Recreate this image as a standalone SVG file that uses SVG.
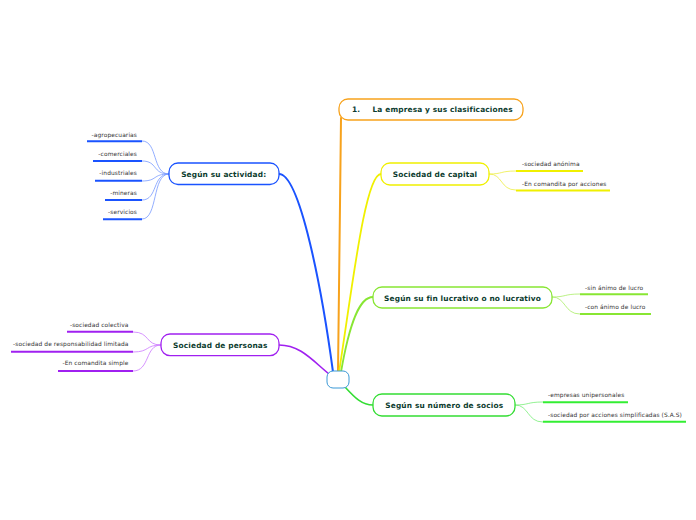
<svg xmlns="http://www.w3.org/2000/svg" width="696" height="520" viewBox="0 0 696 520">
<style>
.node{fill:#fff;stroke-width:1.3}
.nt{font-family:"DejaVu Sans",Verdana,sans-serif;font-weight:bold;font-size:7.4px;letter-spacing:0.15px;fill:#0b3b2e;text-anchor:middle}
.ct{font-family:"DejaVu Sans",Verdana,sans-serif;font-size:5.9px;letter-spacing:0.1px;fill:#333}
.ul{stroke-width:2;fill:none}
.c{fill:none;stroke-linecap:round}
</style>
<rect width="696" height="520" fill="#fff"/>
<g id="connectors">
  <path class="c" d="M341,118 C340,200 339,300 338,372" stroke="#f7a21c" stroke-width="2"/>
  <path class="c" d="M279,174 C300,174 322,290 333,372" stroke="#1a53ff" stroke-width="2"/>
  <path class="c" d="M381,174 C365,174 352,290 339,372" stroke="#f0f000" stroke-width="1.8"/>
  <path class="c" d="M373,297 C360,297 350,320 341,372" stroke="#88e633" stroke-width="1.8"/>
  <path class="c" d="M279,345 C300,345 312,360 329,374" stroke="#a020f0" stroke-width="1.6"/>
  <path class="c" d="M345,387 C355,398 362,405 373,405" stroke="#33dd33" stroke-width="1.6"/>
  <g stroke="#7799ff" stroke-width="0.8" fill="none">
    <path d="M169,174 C152,174 158,141 142,141"/>
    <path d="M169,174 C152,174 158,161 142,161"/>
    <path d="M169,174 C152,174 158,181 142,181"/>
    <path d="M169,174 C152,174 158,200 142,200"/>
    <path d="M169,174 C152,174 158,219 142,219"/>
  </g>
  <g stroke="#cc77ff" stroke-width="0.8" fill="none">
    <path d="M161,345 C145,345 150,332 133,332"/>
    <path d="M161,345 C145,345 150,352 133,352"/>
    <path d="M161,345 C145,345 150,371 133,371"/>
  </g>
  <g stroke="#eeee44" stroke-width="0.8" fill="none">
    <path d="M489,174 C503,174 500,171 516,171"/>
    <path d="M489,174 C503,174 500,190 516,190"/>
  </g>
  <g stroke="#aaee66" stroke-width="0.8" fill="none">
    <path d="M552,297 C566,297 564,294 580,294"/>
    <path d="M552,297 C566,297 564,314 580,314"/>
  </g>
  <g stroke="#77ee77" stroke-width="0.8" fill="none">
    <path d="M515,405 C529,405 527,402 543,402"/>
    <path d="M515,405 C529,405 527,422 543,422"/>
  </g>
</g>
<g id="center">
  <rect x="327" y="371" width="22" height="17" rx="6" fill="#fff" stroke="#3b99d6" stroke-width="1"/>
</g>
<g id="n-empresa">
  <rect class="node" x="339" y="99" width="184" height="21" rx="9" stroke="#f7a21c"/>
  <text class="nt" x="352" y="112" style="text-anchor:start">1.</text>
  <text class="nt" x="372.5" y="112" style="text-anchor:start">La empresa y sus clasificaciones</text>
</g>
<g id="n-capital">
  <rect class="node" x="381" y="163" width="108" height="22" rx="9" stroke="#f0f000"/>
  <text class="nt" x="435" y="176.5">Sociedad de capital</text>
</g>
<g id="c-capital">
  <path class="ul" d="M516,171 H583" stroke="#f0f000"/>
  <text class="ct" x="522" y="165.5">-sociedad anónima</text>
  <path class="ul" d="M516,190.5 H610" stroke="#f0f000"/>
  <text class="ct" x="522" y="185.5">-En comandita por acciones</text>
</g>
<g id="n-lucro">
  <rect class="node" x="373" y="287" width="179" height="21" rx="9" stroke="#88e633"/>
  <text class="nt" x="462.5" y="300.5">Según su fin lucrativo o no lucrativo</text>
</g>
<g id="c-lucro">
  <path class="ul" d="M580,294.3 H648" stroke="#88e633"/>
  <text class="ct" x="585" y="289.5">-sin ánimo de lucro</text>
  <path class="ul" d="M580,314 H651" stroke="#88e633"/>
  <text class="ct" x="585" y="308.5">-con ánimo de lucro</text>
</g>
<g id="n-socios">
  <rect class="node" x="373" y="394" width="142" height="22" rx="9" stroke="#33dd33"/>
  <text class="nt" x="444.3" y="407.5">Según su número de socios</text>
</g>
<g id="c-socios">
  <path class="ul" d="M543,402.3 H628" stroke="#33ee33"/>
  <text class="ct" x="548" y="397">-empresas unipersonales</text>
  <path class="ul" d="M543,421.7 H686" stroke="#33ee33"/>
  <text class="ct" x="548" y="416.7">-sociedad por acciones simplificadas (S.A.S)</text>
</g>
<g id="n-actividad">
  <rect class="node" x="169" y="163" width="110" height="21.5" rx="9" stroke="#1a53ff"/>
  <text class="nt" x="223.7" y="176.5">Según su actividad:</text>
</g>
<g id="c-actividad">
  <g class="ul" stroke="#1a53ff">
    <path d="M87,141.3 H142"/>
    <path d="M93,161 H142"/>
    <path d="M95,180.7 H142"/>
    <path d="M105,200 H142"/>
    <path d="M103,219.3 H142"/>
  </g>
  <g class="ct" text-anchor="end">
    <text x="137" y="136.7">-agropecuarias</text>
    <text x="137" y="155.5">-comerciales</text>
    <text x="137" y="175.3">-industriales</text>
    <text x="137" y="194.5">-mineras</text>
    <text x="137" y="214">-servicios</text>
  </g>
</g>
<g id="n-personas">
  <rect class="node" x="161" y="334" width="118" height="21.7" rx="9" stroke="#a020f0"/>
  <text class="nt" x="220.3" y="347.8">Sociedad de personas</text>
</g>
<g id="c-personas">
  <g class="ul" stroke="#a020f0">
    <path d="M67,331.7 H133"/>
    <path d="M11,351.7 H133"/>
    <path d="M58,371 H133"/>
  </g>
  <g class="ct" text-anchor="end">
    <text x="128.5" y="326.7">-sociedad colectiva</text>
    <text x="128.5" y="346.2">-sociedad de responsabilidad limitada</text>
    <text x="128.5" y="365.2">-En comandita simple</text>
  </g>
</g>
</svg>
